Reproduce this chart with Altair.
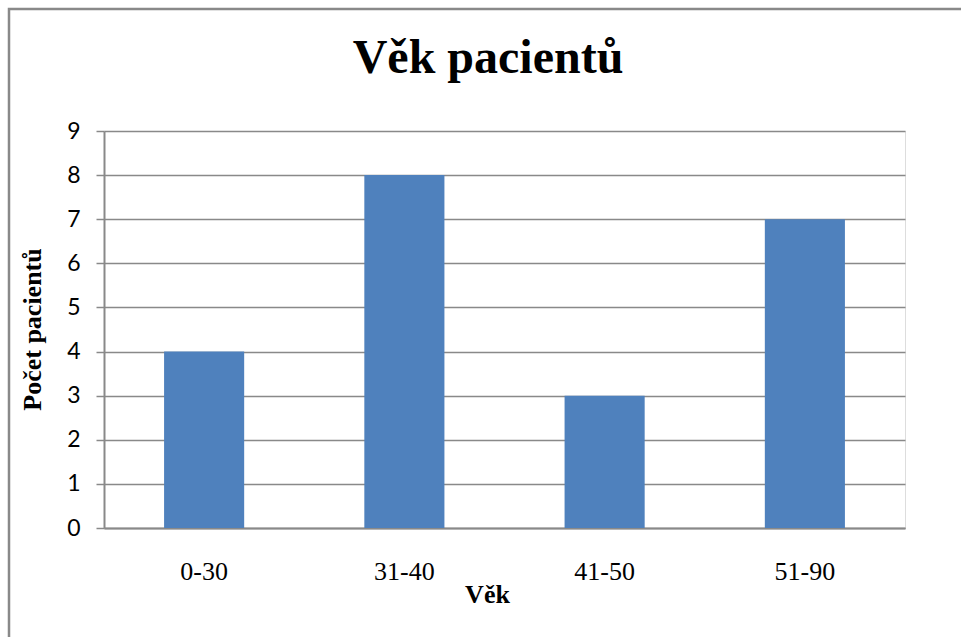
import altair as alt
import pandas as pd

categories = ["0-30", "31-40", "41-50", "51-90"]
counts = [4, 8, 3, 7]
y_ticks = [0, 1, 2, 3, 4, 5, 6, 7, 8, 9]
chart_title = "Věk pacientů"

df = pd.DataFrame({"Věk": categories, "Počet": counts})

serif = "Liberation Serif"
gray = "#898989"

bars = alt.Chart(df).mark_bar(color="#4F81BD").encode(
    x=alt.X(
        "Věk:N",
        sort=categories,
        scale=alt.Scale(paddingInner=0.6, paddingOuter=0.3),
        axis=alt.Axis(
            title="Věk",
            labelAngle=0,
            ticks=False,
            labelPadding=30,
            labelFont=serif,
            labelFontSize=26,
            labelColor="black",
            titleFont=serif,
            titleFontSize=26,
            titleFontWeight="bold",
            titleColor="black",
            titleX=383,
            titleY=74,
            titleBaseline="alphabetic",
            titleAlign="center",
            domainColor=gray,
            domainWidth=2,
            grid=False,
        ),
    ),
    y=alt.Y(
        "Počet:Q",
        scale=alt.Scale(domain=[0, 9], nice=False),
        axis=alt.Axis(
            title="Počet pacientů",
            values=y_ticks,
            format="d",
            labelFont="Lato",
            labelFontSize=23,
            labelColor="black",
            labelPadding=16,
            tickSize=8,
            tickColor=gray,
            tickWidth=1.5,
            domainColor=gray,
            domainWidth=2,
            gridColor=gray,
            gridWidth=1.5,
            titleFont=serif,
            titleFontSize=26,
            titleFontWeight="bold",
            titleColor="black",
            titleAngle=-90,
            titleX=-72,
            titleY=198,
            titleAlign="center",
            titleBaseline="middle",
        ),
    ),
)

one_row = pd.DataFrame({"a": [0]})
frame = alt.Chart(one_row).mark_rect(fill=None, stroke=gray, strokeWidth=2.5).encode(
    x=alt.value(-95),
    x2=alt.value(870),
    y=alt.value(-122),
    y2=alt.value(520),
)

title = alt.Chart(one_row).mark_text(
    text=chart_title,
    font=serif,
    fontSize=48,
    fontWeight="bold",
    color="black",
    align="center",
    baseline="alphabetic",
).encode(x=alt.value(384), y=alt.value(-58))

chart = alt.layer(frame, bars, title).properties(
    width=801,
    height=397,
    padding={"left": 104, "top": 131, "right": 56, "bottom": 109},
    autosize=alt.AutoSizeParams(type="none"),
).configure_view(stroke=None).configure(background="white")

chart.save("out.html", embed_options={"renderer": "svg", "actions": False})
